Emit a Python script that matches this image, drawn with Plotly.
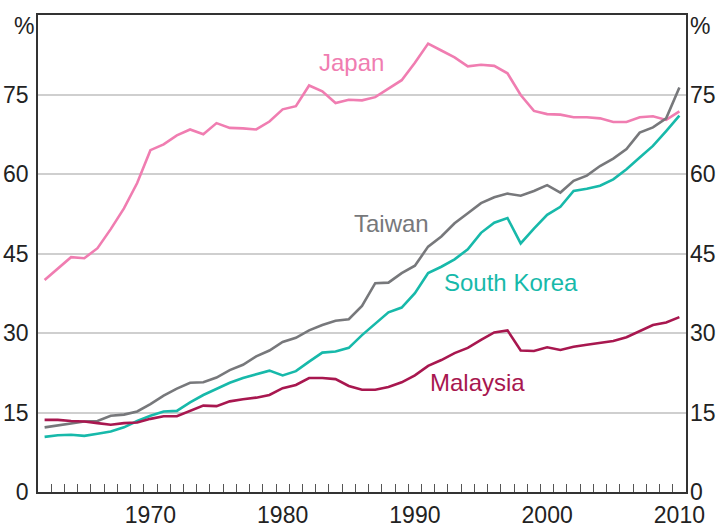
import plotly.graph_objects as go

years = list(range(1962, 2011))

japan = [40.0, 42.2, 44.3, 44.1, 46.0, 49.6, 53.5, 58.3, 64.5, 65.6,
         67.3, 68.4, 67.5, 69.6, 68.7, 68.6, 68.4, 69.9, 72.2, 72.8,
         76.7, 75.6, 73.4, 74.0, 73.9, 74.5, 76.1, 77.7, 81.0, 84.6,
         83.3, 82.0, 80.3, 80.6, 80.4, 79.0, 74.9, 71.9, 71.3, 71.2,
         70.7, 70.7, 70.5, 69.8, 69.8, 70.7, 70.9, 70.2, 71.8]

taiwan = [12.2, 12.6, 13.0, 13.3, 13.4, 14.4, 14.6, 15.2, 16.6, 18.2,
          19.5, 20.6, 20.7, 21.6, 23.0, 24.0, 25.6, 26.7, 28.3, 29.1,
          30.5, 31.5, 32.3, 32.6, 35.1, 39.4, 39.5, 41.3, 42.7, 46.3,
          48.2, 50.7, 52.6, 54.5, 55.6, 56.3, 55.9, 56.8, 57.9, 56.5,
          58.7, 59.7, 61.5, 62.9, 64.7, 67.8, 68.8, 70.5, 76.3]

south_korea = [10.4, 10.7, 10.8, 10.6, 11.0, 11.4, 12.2, 13.4, 14.4, 15.2,
               15.3, 16.9, 18.3, 19.5, 20.6, 21.5, 22.2, 22.9, 22.0, 22.8,
               24.6, 26.3, 26.5, 27.2, 29.6, 31.8, 33.9, 34.8, 37.5, 41.3,
               42.5, 43.9, 45.8, 48.9, 50.8, 51.7, 46.9, 49.7, 52.3, 53.8,
               56.8, 57.2, 57.8, 59.0, 60.9, 63.1, 65.3, 68.1, 71.0]

malaysia = [13.6, 13.6, 13.4, 13.3, 13.0, 12.7, 13.0, 13.1, 13.8, 14.3,
            14.3, 15.3, 16.3, 16.2, 17.1, 17.5, 17.8, 18.3, 19.6, 20.2,
            21.5, 21.5, 21.3, 20.0, 19.3, 19.3, 19.8, 20.7, 22.0, 23.8,
            24.9, 26.2, 27.2, 28.7, 30.1, 30.5, 26.7, 26.6, 27.3, 26.8,
            27.4, 27.8, 28.2, 28.5, 29.2, 30.3, 31.5, 32.0, 33.0]

y_ticks = [0, 15, 30, 45, 60, 75]
x_ticks = [1970, 1980, 1990, 2000, 2010]

series = [
    ("Japan", japan, "#F07DB1", 1985.2, 81.1),
    ("Taiwan", taiwan, "#77787B", 1988.2, 50.6),
    ("South Korea", south_korea, "#17B9AA", 1997.3, 39.5),
    ("Malaysia", malaysia, "#A8174F", 1994.7, 20.7),
]

FONT = "Liberation Sans, Arial, sans-serif"
fig = go.Figure()
for name, vals, color, lx, ly in series:
    fig.add_trace(go.Scatter(x=years, y=vals, mode="lines", name=name,
                             line=dict(color=color, width=2.6), showlegend=False))
    fig.add_annotation(x=lx, y=ly, text=name, showarrow=False, xref="x", yref="y",
                       font=dict(family=FONT, size=24, color=color))

# invisible trace on secondary axes (right y labels, year-boundary ticks)
fig.add_trace(go.Scatter(x=[years[0]], y=[0], xaxis="x2", yaxis="y2", mode="lines",
                         line=dict(width=0), showlegend=False, hoverinfo="skip"))

axis_font = dict(family=FONT, size=23, color="#222222")
fig.update_layout(
    width=718, height=526,
    margin=dict(l=38, r=32, t=15, b=34),
    paper_bgcolor="white", plot_bgcolor="white",
    xaxis=dict(range=[1961.5, 2010.5], tickmode="array", tickvals=x_ticks,
               ticktext=[str(v) for v in x_ticks], ticks="", showgrid=False,
               showline=True, linecolor="#333333", linewidth=1.5, mirror=True,
               tickfont=axis_font, ticklabelstandoff=2, zeroline=False,
               automargin=False),
    xaxis2=dict(range=[1961.5, 2010.5], overlaying="x", side="bottom",
                tickmode="linear", tick0=1961.5, dtick=1, ticks="inside",
                ticklen=8, tickcolor="#555555", tickwidth=1.2,
                showticklabels=False, showgrid=False, zeroline=False,
                showline=False, automargin=False),
    yaxis=dict(range=[0, 90], tickmode="array", tickvals=y_ticks, showgrid=True,
               gridcolor="#CFCFCF", gridwidth=1.5, ticks="", zeroline=False,
               showline=True, linecolor="#333333", linewidth=1.5, mirror=True,
               tickfont=axis_font, ticklabelstandoff=3, automargin=False),
    yaxis2=dict(range=[0, 90], tickmode="array", tickvals=y_ticks, overlaying="y",
                side="right", showgrid=False, ticks="", zeroline=False,
                showline=False, tickfont=axis_font, ticklabelstandoff=3,
                automargin=False),
    annotations=list(fig.layout.annotations) + [
        dict(xref="paper", yref="paper", x=-0.021, y=0.977, text="%", showarrow=False,
             xanchor="center", yanchor="middle", font=axis_font),
        dict(xref="paper", yref="paper", x=1.021, y=0.977, text="%", showarrow=False,
             xanchor="center", yanchor="middle", font=axis_font),
    ],
)

fig.write_html("out.html", config={"displayModeBar": False},
               post_script="document.body.style.margin='0';document.body.style.overflow='hidden';")
